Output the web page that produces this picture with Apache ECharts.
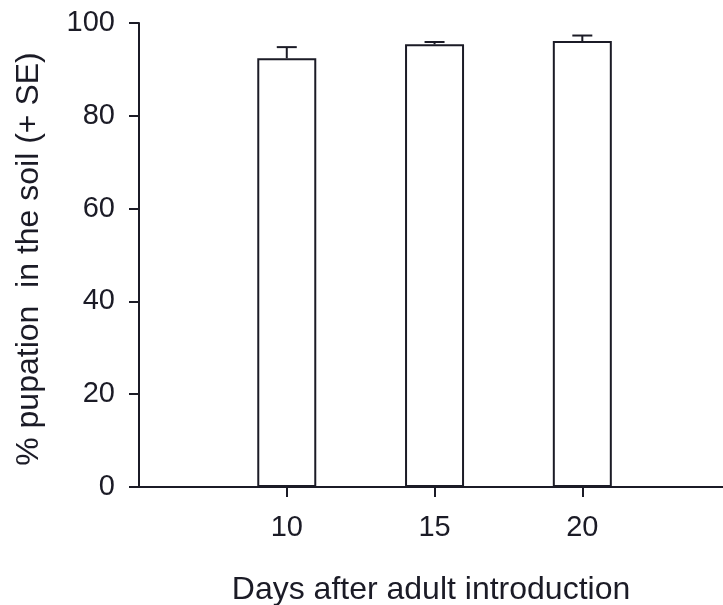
<html>
<head>
<meta http-equiv="Content-Type" content="text/html; charset=utf-8" />
<script src="https://cdn.jsdelivr.net/npm/echarts@6/dist/echarts.min.js"></script>
<style>
  html, body { margin: 0; padding: 0; background: #fff; }
</style>
</head>
<body>
<div id="main" style="width:723px;height:605px;"></div>
<script type="text/javascript">
// data
var days = [10, 15, 20];
var pupation = [92.4, 95.4, 96.1];
var se = [2.4, 0.5, 1.2];
var xTicks = [10, 15, 20];
var yTicks = [0, 20, 40, 60, 80, 100];

var ink = '#1b1b26';
var font = '"Liberation Sans", Arial, Helvetica, sans-serif';

var chart = echarts.init(document.getElementById('main'));

var barData = days.map(function (d, i) { return [d, pupation[i]]; });
var errData = days.map(function (d, i) { return [d, pupation[i], se[i]]; });

chart.setOption({
  animation: false,
  grid: { left: 139, top: 23, right: 0, bottom: 118, outerBoundsMode: 'none' },
  xAxis: {
    type: 'value',
    min: 5,
    max: 24.76,
    name: 'Days after adult introduction',
    nameLocation: 'middle',
    nameGap: 87,
    nameTextStyle: { fontFamily: font, fontSize: 32, color: ink },
    splitLine: { show: false },
    axisLine: { onZero: false, lineStyle: { color: ink, width: 2 } },
    axisTick: { show: true, customValues: xTicks, length: 10, lineStyle: { color: ink, width: 2 } },
    axisLabel: { customValues: xTicks, margin: 26, fontFamily: font, fontSize: 29, color: ink }
  },
  yAxis: {
    type: 'value',
    min: 0,
    max: 100,
    interval: 20,
    name: '% pupation  in the soil (+ SE)',
    nameLocation: 'middle',
    nameGap: 94,
    nameTextStyle: { fontFamily: font, fontSize: 32, color: ink, padding: [0, 8, 0, 0] },
    splitLine: { show: false },
    axisLine: { show: true, lineStyle: { color: ink, width: 2 } },
    axisTick: { show: true, length: 10, lineStyle: { color: ink, width: 2 } },
    axisLabel: { margin: 24, fontFamily: font, fontSize: 29, color: ink }
  },
  series: [
    {
      type: 'bar',
      data: barData,
      barWidth: 59,
      itemStyle: { color: '#fff', borderColor: ink, borderWidth: 2 }
    },
    {
      type: 'custom',
      data: errData,
      z: 3,
      renderItem: function (params, api) {
        var x = api.value(0), m = api.value(1), e = api.value(2);
        var base = api.coord([x, m]);
        var top = api.coord([x, m + e]);
        var half = 10;
        var style = { stroke: ink, lineWidth: 2 };
        return {
          type: 'group',
          children: [
            { type: 'line', shape: { x1: top[0], y1: base[1], x2: top[0], y2: top[1] }, style: style },
            { type: 'line', shape: { x1: top[0] - half, y1: top[1], x2: top[0] + half, y2: top[1] }, style: style }
          ]
        };
      }
    }
  ]
});
</script>
</body>
</html>
